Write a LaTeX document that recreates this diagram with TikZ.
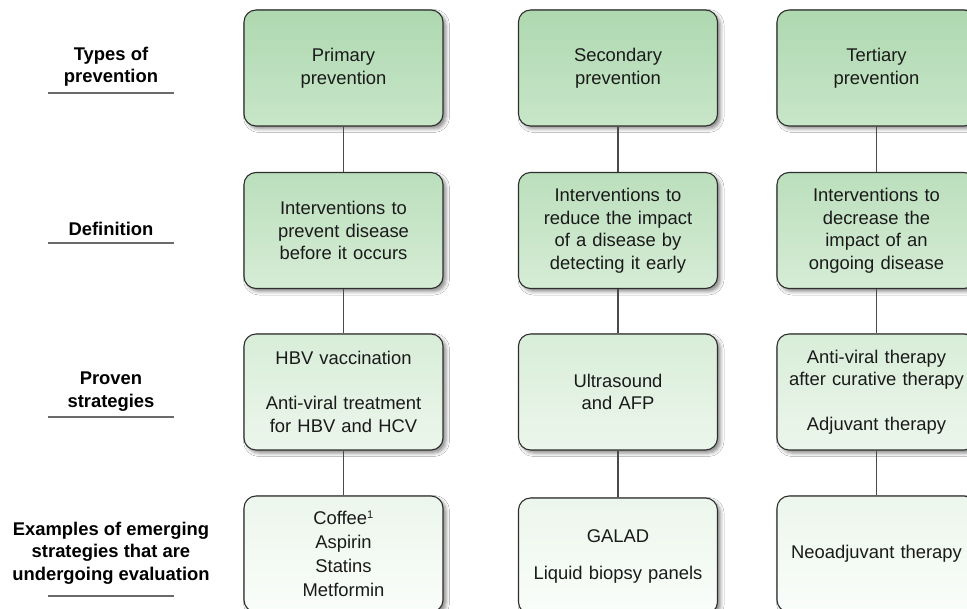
\documentclass[tikz,border=0pt]{standalone}
\usepackage{fontspec}
\setmainfont{Liberation Sans}
\usetikzlibrary{shadows.blur}

\definecolor{boxline}{HTML}{2E2E2E}
\definecolor{connline}{HTML}{4A4A4A}
\definecolor{ruleline}{HTML}{6A6A6A}
\definecolor{txt}{HTML}{1A1A1A}

\begin{document}
\begin{tikzpicture}[x=1pt,y=-1pt,
  box/.style={rectangle, rounded corners=12pt, draw=boxline, line width=1.1pt,
    minimum width=199pt, minimum height=116pt, text width=192pt, align=center,
    inner sep=0pt, text=txt, font=\fontsize{18.4}{22.5}\selectfont,
    blur shadow={shadow xshift=3pt, shadow yshift=-3pt, shadow blur radius=3.5pt, shadow opacity=45}},
  rowA/.style={box, top color=green!30!black!0!white!100, top color={rgb,255:red,174;green,216;blue,176}, bottom color={rgb,255:red,200;green,230;blue,200}},
  rowB/.style={box, top color={rgb,255:red,187;green,223;blue,188}, bottom color={rgb,255:red,214;green,236;blue,214}},
  rowC/.style={box, top color={rgb,255:red,216;green,237;blue,216}, bottom color={rgb,255:red,236;green,246;blue,236}},
  rowD/.style={box, top color={rgb,255:red,236;green,246;blue,236}, bottom color={rgb,255:red,250;green,253;blue,250}},
  conn/.style={draw=connline, line width=1.1pt},
  rowlabel/.style={align=center, inner sep=0pt, text=black,
    font=\fontsize{18.4}{22.5}\selectfont\bfseries},
  rule/.style={draw=ruleline, line width=1.5pt}]

\clip (0,0) rectangle (967,609);
\fill[white] (0,0) rectangle (967,609);

% row labels with their underlines
\node[rowlabel] (lblA) at (111,66.5) {Types of\\prevention};
\node[rowlabel] (lblB) at (111,229) {Definition};
\node[rowlabel] (lblC) at (111,391.5) {Proven\\strategies};
\node[rowlabel] (lblD) at (111,553) {Examples of emerging\\strategies that are\\undergoing evaluation};
\draw[rule] (48,93) -- (174,93);
\draw[rule] (48,243) -- (174,243);
\draw[rule] (48,417) -- (174,417);
\draw[rule] (48,596) -- (174,596);

% primary prevention column
\node[rowA] (p1) at (343.5,68) {Primary\\prevention};
\node[rowB] (p2) at (343.5,230.5) {Interventions to\\prevent disease\\before it occurs};
\node[rowC] (p3) at (343.5,392) {HBV vaccination\\[22.5pt]Anti-viral treatment\\for HBV and HCV};
\node[rowD, font=\fontsize{18.4}{24}\selectfont] (p4) at (343.5,554) {Coffee\textsuperscript{\fontsize{11}{11}\selectfont 1}\\Aspirin\\Statins\\Metformin};

% secondary prevention column
\node[rowA] (s1) at (618,68) {Secondary\\prevention};
\node[rowB] (s2) at (618,230.5) {Interventions to\\reduce the impact\\of a disease by\\detecting it early};
\node[rowC] (s3) at (618,392) {Ultrasound\\and AFP};
\node[rowD] (s4) at (618,556) {GALAD\\[14.5pt]Liquid biopsy panels};

% tertiary prevention column
\node[rowA] (t1) at (876.5,68) {Tertiary\\prevention};
\node[rowB] (t2) at (876.5,230.5) {Interventions to\\decrease the\\impact of an\\ongoing disease};
\node[rowC] (t3) at (876.5,392) {Anti-viral therapy\\after curative therapy\\[22.5pt]Adjuvant therapy};
\node[rowD] (t4) at (876.5,554) {Neoadjuvant therapy};

% vertical connectors
\foreach \c in {p,s,t}{
  \draw[conn] (\c1.south) -- (\c2.north);
  \draw[conn] (\c2.south) -- (\c3.north);
  \draw[conn] (\c3.south) -- (\c4.north);
}
\end{tikzpicture}
\end{document}
